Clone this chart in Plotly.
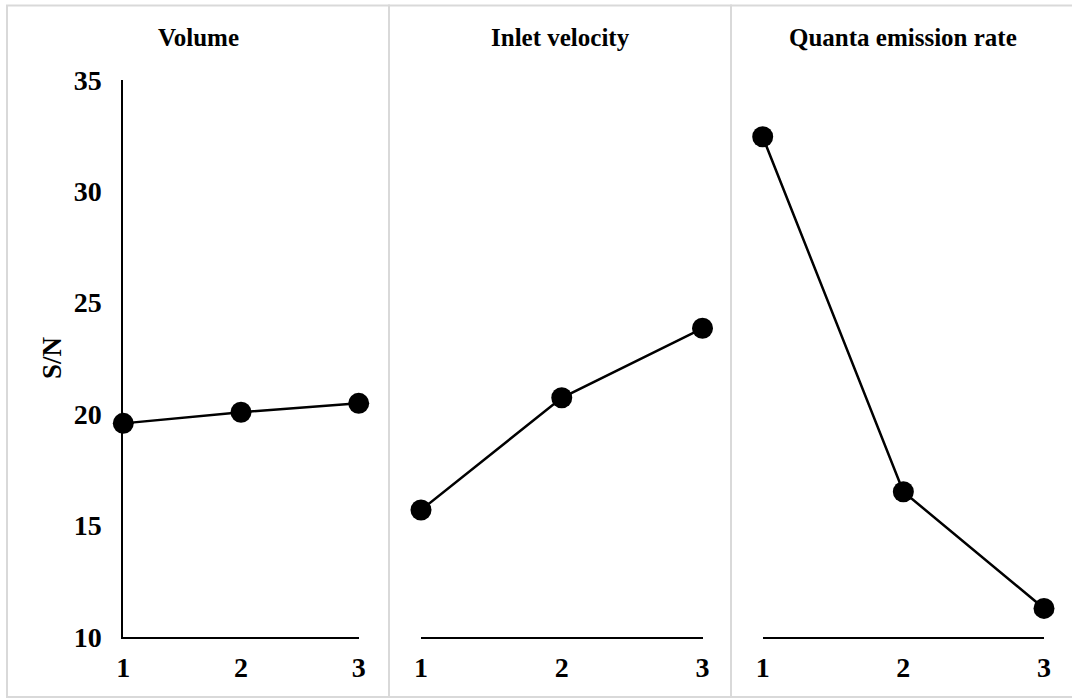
import plotly.graph_objects as go

levels = [1, 2, 3]
panel_titles = ["Volume", "Inlet velocity", "Quanta emission rate"]
volume_sn = [19.58, 20.08, 20.48]
inlet_velocity_sn = [15.69, 20.73, 23.85]
quanta_rate_sn = [32.45, 16.51, 11.27]
y_ticks = [10, 15, 20, 25, 30, 35]
y_label = "S/N"

W, H = 1072, 698
FONT = "Liberation Serif, Times New Roman, serif"

def px(x):
    return x / W

def py(y):
    return 1 - y / H

fig = go.Figure()
series = [volume_sn, inlet_velocity_sn, quanta_rate_sn]
for i, vals in enumerate(series):
    sfx = "" if i == 0 else str(i + 1)
    fig.add_trace(go.Scatter(
        x=levels, y=vals, mode="lines+markers",
        line=dict(color="black", width=2.5),
        marker=dict(color="black", size=21),
        cliponaxis=False, showlegend=False,
        xaxis="x" + sfx, yaxis="y" + sfx,
    ))

x_domains = [[px(123.3), px(358.7)], [px(421), px(702.5)], [px(762.7), px(1044)]]
y_domain = [py(636.7), py(80)]
tickfont = dict(family=FONT, size=28, color="black", weight="bold")

layout = dict(
    width=W, height=H,
    margin=dict(l=0, r=0, t=0, b=0, pad=0),
    paper_bgcolor="white", plot_bgcolor="white",
    showlegend=False,
)
for i in range(3):
    sfx = "" if i == 0 else str(i + 1)
    layout["xaxis" + sfx] = dict(
        domain=x_domains[i], range=[1, 3], tickvals=levels,
        showline=True, linecolor="black", linewidth=2,
        showgrid=False, zeroline=False, ticks="",
        tickfont=tickfont, ticklabelstandoff=5, automargin=False,
        anchor="y" + sfx, fixedrange=True,
    )
    ydict = dict(
        domain=y_domain, range=[10, 35], tickvals=y_ticks,
        showgrid=False, zeroline=False, ticks="", automargin=False,
        anchor="x" + sfx, fixedrange=True,
    )
    if i == 0:
        ydict.update(showline=True, linecolor="black", linewidth=2,
                     tickfont=tickfont, ticklabelstandoff=14)
    else:
        ydict.update(showline=False, showticklabels=False)
    layout["yaxis" + sfx] = ydict

fig.update_layout(**layout)

# panel borders
panels = [(7, 389), (389, 731), (731, 1078)]
for x0, x1 in panels:
    fig.add_shape(type="rect", xref="paper", yref="paper",
                  x0=px(x0), x1=px(x1), y0=py(697), y1=py(5.5),
                  line=dict(color="#d9d9d9", width=2), fillcolor="rgba(0,0,0,0)",
                  layer="below")

title_x = [198, 560, 903]
for t, cx in zip(panel_titles, title_x):
    fig.add_annotation(text=t, xref="paper", yref="paper",
                       x=px(cx), y=py(37), xanchor="center", yanchor="middle",
                       showarrow=False,
                       font=dict(family=FONT, size=25, color="black", weight="bold"))

fig.add_annotation(text=y_label, xref="paper", yref="paper",
                   x=px(52), y=py(358), xanchor="center", yanchor="middle",
                   textangle=-90, showarrow=False,
                   font=dict(family=FONT, size=27, color="black", weight="bold"))

fig.write_html(
    "out.html",
    config={"displayModeBar": False},
    post_script="document.body.style.margin='0';document.body.style.padding='0';",
)
